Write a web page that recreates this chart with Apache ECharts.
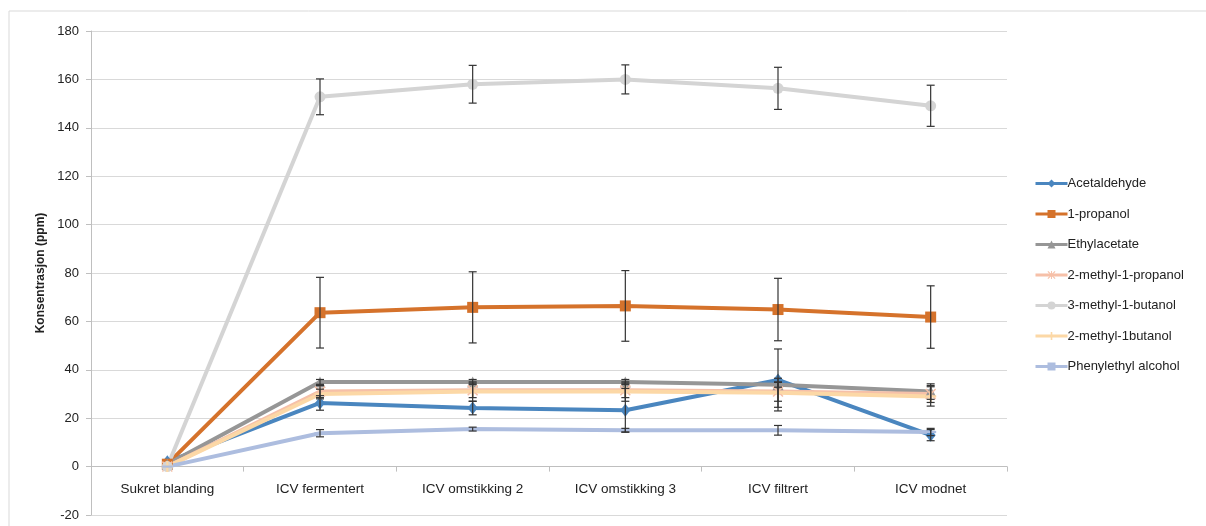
<!DOCTYPE html>
<html>
<head>
<meta charset="utf-8">
<script src="https://cdn.jsdelivr.net/npm/echarts@6/dist/echarts.min.js"></script>
<style>
  html, body { margin: 0; padding: 0; background: #fff; }
  #chart { width: 1206px; height: 526px; }
</style>
</head>
<body>
<div id="chart"></div>
<script>
// Sampling stages
const categories = ['Sukret blanding', 'ICV fermentert', 'ICV omstikking 2', 'ICV omstikking 3', 'ICV filtrert', 'ICV modnet'];

// Mean concentrations (ppm)
const acetaldehyde = [2, 26.3, 24.2, 23.3, 35.8, 13];
const propanol1 = [1, 63.6, 65.8, 66.4, 64.9, 61.8];
const ethylacetate = [1, 35, 35, 35, 33.8, 31];
const methylPropanol = [0, 31, 31.5, 31.5, 31, 30];
const methylButanol3 = [0, 152.8, 158, 160, 156.3, 149.1];
const methylButanol2 = [0, 30, 31, 31, 30.5, 29];
const phenylethyl = [0, 13.8, 15.5, 15, 15, 14.3];

// Standard deviations (ppm)
const acetaldehydeErr = [0, 3, 2.8, 9, 12.8, 2.3];
const propanol1Err = [0, 14.6, 14.7, 14.6, 12.9, 12.9];
const ethylacetateErr = [0, 1, 1, 1, 1, 3.2];
const methylPropanolErr = [0, 2.5, 3, 3, 4, 3.5];
const methylButanol3Err = [0, 7.4, 7.8, 6, 8.7, 8.5];
const methylButanol2Err = [0, 2, 4, 4, 6, 4];
const phenylethylErr = [0, 1.5, 0.8, 0.8, 2, 1.5];

const yTicks = { min: -20, max: 180, interval: 20 };

const FONT = 'Liberation Sans';

const SYM_PLUS = 'path://M4,0 L6,0 L6,4 L10,4 L10,6 L6,6 L6,10 L4,10 L4,6 L0,6 L0,4 L4,4 Z';
const SYM_STAR = 'path://M0,1 L1,0 L5,4 L9,0 L10,1 L6,5 L10,9 L9,10 L5,6 L1,10 L0,9 L4,5 Z M4.4,0 L5.6,0 L5.6,10 L4.4,10 Z';
const SYM_DASH = 'path://M0,0 L10,0 L10,2 L0,2 Z';

const seriesDefs = [
  { name: 'Acetaldehyde', data: acetaldehyde, err: acetaldehydeErr, color: '#4A86BF', symbol: 'diamond', size: [10, 13] },
  { name: '1-propanol', data: propanol1, err: propanol1Err, color: '#D5722B', symbol: 'rect', size: 11 },
  { name: 'Ethylacetate', data: ethylacetate, err: ethylacetateErr, color: '#969696', symbol: 'triangle', size: 11 },
  { name: '2-methyl-1-propanol', data: methylPropanol, err: methylPropanolErr, color: '#F6C0A8', symbol: SYM_STAR, size: 11 },
  { name: '3-methyl-1-butanol', data: methylButanol3, err: methylButanol3Err, color: '#D4D4D4', symbol: 'circle', size: 11 },
  { name: '2-methyl-1butanol', data: methylButanol2, err: methylButanol2Err, color: '#FCD8A6', symbol: SYM_PLUS, size: 11 },
  { name: 'Phenylethyl alcohol', data: phenylethyl, err: phenylethylErr, color: '#ADBDDF', symbol: SYM_DASH, size: 11, keep: true }
];

const series = [];
seriesDefs.forEach(function (d) {
  series.push({
    name: d.name,
    type: 'line',
    data: d.data,
    symbol: d.symbol,
    symbolSize: d.size,
    symbolKeepAspect: !!d.keep,
    showAllSymbol: true,
    lineStyle: { color: d.color, width: 4 },
    itemStyle: { color: d.color },
    z: 3
  });
});

// Error bars (mean ± SD) for every series
seriesDefs.forEach(function (d) {
  const bars = [];
  d.data.forEach(function (v, i) {
    if (d.err[i] > 0) bars.push([i, v - d.err[i], v + d.err[i]]);
  });
  series.push({
    type: 'custom',
    name: d.name + ' SD',
    silent: true,
    z: 4,
    data: bars,
    encode: { x: 0, y: [1, 2] },
    renderItem: function (params, api) {
      const x = api.value(0);
      const lo = api.coord([x, api.value(1)]);
      const hi = api.coord([x, api.value(2)]);
      const cap = 4;
      const style = { stroke: '#333333', lineWidth: 1.2, fill: null };
      return {
        type: 'group',
        children: [
          { type: 'line', shape: { x1: lo[0], y1: lo[1], x2: hi[0], y2: hi[1] }, style: style },
          { type: 'line', shape: { x1: lo[0] - cap, y1: lo[1], x2: lo[0] + cap, y2: lo[1] }, style: style },
          { type: 'line', shape: { x1: hi[0] - cap, y1: hi[1], x2: hi[0] + cap, y2: hi[1] }, style: style }
        ]
      };
    }
  });
});

const chart = echarts.init(document.getElementById('chart'), null, { renderer: 'canvas' });
chart.setOption({
  animation: false,
  backgroundColor: '#ffffff',
  textStyle: { fontFamily: FONT },
  graphic: [{
    type: 'rect',
    shape: { x: 9, y: 11, width: 1210, height: 530 },
    style: { fill: null, stroke: '#d9d9d9', lineWidth: 1 },
    silent: true,
    z: -10
  }],
  grid: { left: 91, right: 199, top: 31, bottom: 11, containLabel: false, outerBoundsMode: 'none' },
  legend: {
    orient: 'vertical',
    left: 1029,
    top: 172,
    itemGap: 17.5,
    itemWidth: 32,
    itemHeight: 10,
    data: seriesDefs.map(function (d) { return d.name; }),
    lineStyle: { width: 3 },
    textStyle: { fontFamily: FONT, fontSize: 13, color: '#222', padding: [0, 0, 0, -5] }
  },
  xAxis: {
    type: 'category',
    data: categories,
    boundaryGap: true,
    axisLine: { onZero: true, lineStyle: { color: '#bfbfbf', width: 1 } },
    axisTick: { show: true, alignWithLabel: false, length: 5, lineStyle: { color: '#bfbfbf' } },
    // labels sit just below the zero line
    axisLabel: { fontFamily: FONT, fontSize: 13.5, color: '#222', margin: -33 },
    splitLine: { show: false }
  },
  yAxis: {
    type: 'value',
    min: yTicks.min,
    max: yTicks.max,
    interval: yTicks.interval,
    name: 'Konsentrasjon (ppm)',
    nameLocation: 'middle',
    nameGap: 40,
    nameTextStyle: { fontFamily: FONT, fontSize: 12, fontWeight: 'bold', color: '#222' },
    axisLine: { show: true, lineStyle: { color: '#bfbfbf', width: 1 } },
    axisTick: { show: true, length: 5, lineStyle: { color: '#bfbfbf' } },
    axisLabel: { fontFamily: FONT, fontSize: 13, color: '#222', margin: 12 },
    splitLine: { show: true, lineStyle: { color: '#d9d9d9', width: 1 } }
  },
  series: series
});
</script>
</body>
</html>
